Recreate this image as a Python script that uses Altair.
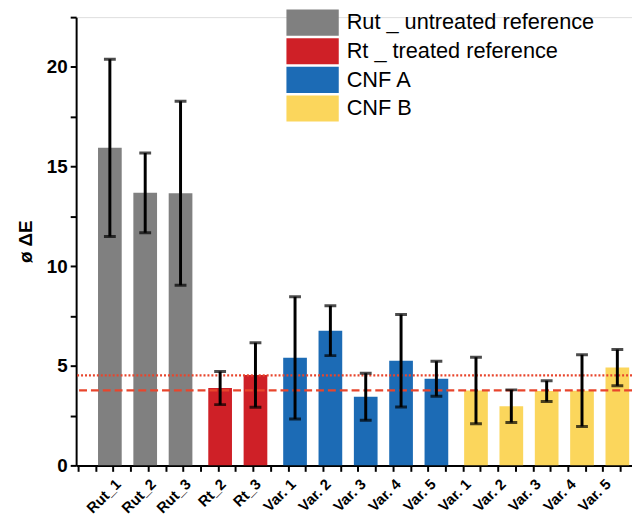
import altair as alt
import pandas as pd
import json

labels = ["Rut_1", "Rut_2", "Rut_3", "Rt_2", "Rt_3",
          "Var. 1", "Var. 2", "Var. 3", "Var. 4", "Var. 5",
          "Var. 1", "Var. 2", "Var. 3", "Var. 4", "Var. 5"]
groups = ["Rut _ untreated reference"] * 3 + ["Rt _ treated reference"] * 2 + ["CNF A"] * 5 + ["CNF B"] * 5
group_order = ["Rut _ untreated reference", "Rt _ treated reference", "CNF A", "CNF B"]
group_colors = ["#808080", "#cf2027", "#1c6bb5", "#fbd65c"]
means = [15.94, 13.68, 13.66, 3.88, 4.54, 5.40, 6.76, 3.45, 5.25, 4.35, 3.76, 2.97, 3.73, 3.75, 4.91]
sds = [4.45, 2.00, 4.62, 0.83, 1.62, 3.07, 1.25, 1.18, 2.32, 0.88, 1.67, 0.82, 0.52, 1.80, 0.91]
ref_values = [4.52, 3.77]
ref_kind = ["dotted", "dashed"]

FONT = "Liberation Sans"
GAP = 0.12          # extra space between sample groups (in bar steps)
gidx = [group_order.index(g) for g in groups]
pos = [round(i + GAP * g, 4) for i, g in enumerate(gidx)]

# x axis: uniform tick grid (labels on every second tick), like the original software
TICK0 = 0.09
TICK_STEP = 0.99
label_ticks = [round(TICK0 + TICK_STEP * i, 4) for i in range(len(labels))]
tick_vals = [round(TICK0 + TICK_STEP * k / 2, 4) for k in range(-2, 2 * len(labels) + 1)]

df = pd.DataFrame({
    "pos": pos, "label": labels, "group": groups, "mean": means, "sd": sds,
})
df["lo"] = df["mean"] - df["sd"]
df["hi"] = df["mean"] + df["sd"]
ref = pd.DataFrame({"v": ref_values, "kind": ref_kind})

label_expr = ("indexof(" + json.dumps(label_ticks) + ", datum.value) >= 0 ? "
              + json.dumps(labels) + "[indexof(" + json.dumps(label_ticks) + ", datum.value)] : ''")

xscale = alt.Scale(domain=[-0.815, 14.635], nice=False, zero=False)
yscale = alt.Scale(domain=[0, 22.5], nice=False)

x_axis = alt.Axis(values=tick_vals, tickCount=200, labelExpr=label_expr, labelAngle=-45,
                  labelFont=FONT, labelFontWeight="bold", labelFontSize=15,
                  labelColor="black", tickColor="black", tickSize=6, tickWidth=2,
                  domainColor="black", domainWidth=2, grid=False, title=None,
                  labelPadding=5, labelOffset=0, labelOverlap=False,
                  labelBound=False, labelFlush=False)
y_axis = alt.Axis(values=[i * 2.5 for i in range(10)], tickCount=50,
                  labelExpr="datum.value % 5 == 0 ? datum.value : ''",
                  labelFont=FONT, labelFontWeight="bold", labelFontSize=19,
                  labelColor="black", tickColor="black", tickSize=6, tickWidth=2,
                  domainColor="black", domainWidth=2, grid=False,
                  title="ø ΔE", titleFont=FONT, titleFontWeight="bold",
                  titleFontSize=19, titleColor="black", titlePadding=11, labelPadding=3)

base = alt.Chart(df)

bars = base.mark_bar(size=24, clip=True).encode(
    x=alt.X("pos:Q", scale=xscale, axis=x_axis),
    y=alt.Y("mean:Q", scale=yscale, axis=y_axis),
    color=alt.Color("group:N",
                    scale=alt.Scale(domain=group_order, range=group_colors),
                    legend=alt.Legend(orient="none", legendX=226, legendY=-8,
                                      title=None, symbolType="M-2,-1H2V1H-2Z",
                                      symbolSize=702, symbolStrokeWidth=0,
                                      symbolOpacity=1,
                                      labelFont=FONT, labelFontSize=22,
                                      labelColor="black", labelOffset=21,
                                      labelLimit=0,
                                      rowPadding=2, padding=0)),
)

refs = alt.Chart(ref).mark_rule(color="#e8452c", strokeWidth=2.2).encode(
    y=alt.Y("v:Q", scale=yscale),
    strokeDash=alt.StrokeDash("kind:N",
                              scale=alt.Scale(domain=["dotted", "dashed"],
                                              range=[[2, 2], [8, 4]]),
                              legend=None),
)

err = base.mark_rule(color="black", strokeWidth=3, clip=True).encode(
    x=alt.X("pos:Q", scale=xscale),
    y=alt.Y("lo:Q", scale=yscale),
    y2="hi:Q",
)
cap_hi = base.mark_tick(color="black", thickness=3, size=12, orient="horizontal", clip=True).encode(
    x=alt.X("pos:Q", scale=xscale),
    y=alt.Y("hi:Q", scale=yscale),
)
cap_lo = base.mark_tick(color="black", thickness=3, size=12, orient="horizontal", clip=True).encode(
    x=alt.X("pos:Q", scale=xscale),
    y=alt.Y("lo:Q", scale=yscale),
)

chart = alt.layer(bars, refs, err, cap_hi, cap_lo).properties(
    width=563, height=454,
    autosize=alt.AutoSizeParams(type="none"),
    padding={"left": 69, "top": 6, "right": 0, "bottom": 49},
).configure_view(stroke=None).configure(background="white")

chart.save("out.html", embed_options={"renderer": "svg", "actions": False})
